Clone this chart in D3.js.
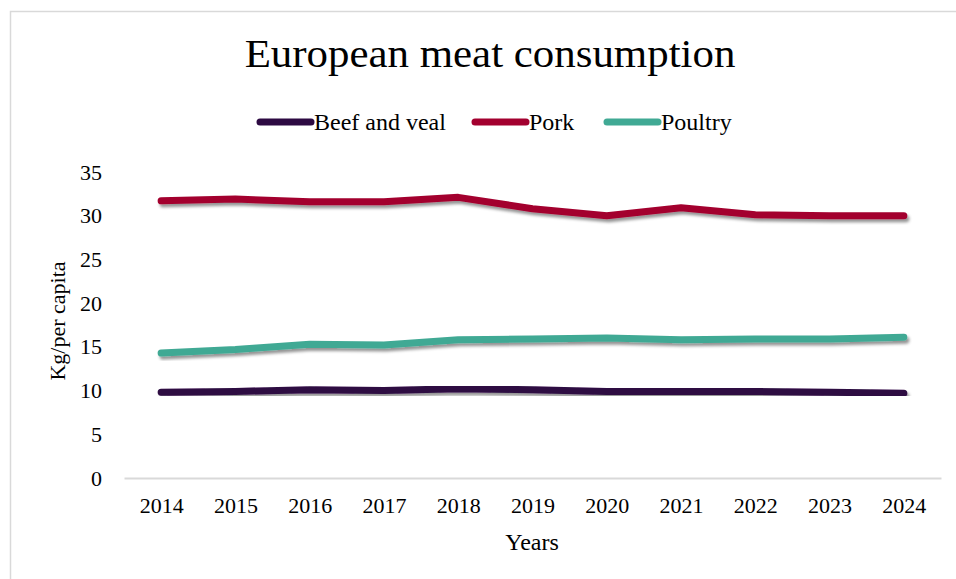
<!DOCTYPE html>
<html>
<head>
<meta charset="utf-8">
<script src="https://cdn.jsdelivr.net/npm/d3@7"></script>
<style>
  html, body { margin: 0; padding: 0; background: #fff; }
  svg { display: block; font-family: "Liberation Serif", "Times New Roman", serif; }
</style>
</head>
<body>
<svg id="chart" width="956" height="579"></svg>
<script>
// Annual per-capita meat consumption in Europe (kg)
const years = ["2014","2015","2016","2017","2018","2019","2020","2021","2022","2023","2024"];
const beefVeal = [9.8, 9.9, 10.1, 10.0, 10.2, 10.1, 9.9, 9.9, 9.9, 9.8, 9.7];
const pork     = [31.7, 31.9, 31.6, 31.6, 32.1, 30.8, 30.0, 30.9, 30.1, 30.0, 30.0];
const poultry  = [14.3, 14.7, 15.3, 15.2, 15.8, 15.9, 16.0, 15.8, 15.9, 15.9, 16.1];
const yTicks   = [0, 5, 10, 15, 20, 25, 30, 35];

const seriesNames  = ["Beef and veal", "Pork", "Poultry"];
const seriesValues = [beefVeal, pork, poultry];
const seriesColors = ["#2d0a42", "#a3002f", "#40a994"];

const series = seriesNames.map((name, i) => ({
  name, color: seriesColors[i],
  values: years.map((y, j) => ({ year: y, value: seriesValues[i][j] }))
}));

const svg = d3.select("#chart");

// outer chart frame
svg.append("rect")
  .attr("x", 10.5).attr("y", 11.5)
  .attr("width", 1000).attr("height", 700)
  .attr("fill", "#fff").attr("stroke", "#d9d9d9").attr("stroke-width", 1.5);

// soft drop shadow under each series line
const defs = svg.append("defs");
const f = defs.append("filter").attr("id", "lineShadow")
  .attr("x", "-5%").attr("y", "-50%").attr("width", "110%").attr("height", "200%");
f.append("feDropShadow")
  .attr("dx", 2).attr("dy", 3).attr("stdDeviation", 1.6)
  .attr("flood-color", "#000").attr("flood-opacity", 0.42);

const plot = { left: 124, right: 941, top: 172, bottom: 478 };

const x = d3.scalePoint().domain(years)
  .range([plot.left, plot.right]).padding(0.5);
const y = d3.scaleLinear().domain([0, 35])
  .range([plot.bottom, plot.top]);

// title
svg.append("text")
  .attr("transform", "translate(490,67) scale(1.1,1)")
  .attr("text-anchor", "middle")
  .attr("font-size", 39)
  .attr("fill", "#000")
  .text("European meat consumption");

// legend
const legendX = [257, 472, 604];
const legend = svg.append("g").selectAll("g").data(series).join("g")
  .attr("transform", (d, i) => `translate(${legendX[i]},122)`);
legend.append("line")
  .attr("x1", 3).attr("x2", 54).attr("y1", 0).attr("y2", 0)
  .attr("stroke", d => d.color).attr("stroke-width", 7)
  .attr("stroke-linecap", "round");
legend.append("text")
  .attr("x", 57).attr("y", 7.5)
  .attr("font-size", 24).attr("fill", "#000")
  .text(d => d.name);

// y axis (labels only)
const yAxis = svg.append("g")
  .attr("transform", `translate(${plot.left - 22},0)`)
  .call(d3.axisLeft(y).tickValues(yTicks).tickSize(0).tickPadding(0));
yAxis.select(".domain").remove();
yAxis.selectAll("text")
  .attr("font-family", "Liberation Serif, Times New Roman, serif")
  .attr("font-size", 22).attr("fill", "#000");

// x axis
const xAxis = svg.append("g")
  .attr("transform", `translate(0,${plot.bottom})`)
  .call(d3.axisBottom(x).tickSize(0).tickPadding(19));
xAxis.select(".domain")
  .attr("stroke", "#d9d9d9").attr("stroke-width", 2);
xAxis.selectAll("text")
  .attr("font-family", "Liberation Serif, Times New Roman, serif")
  .attr("font-size", 22).attr("fill", "#000");

// axis titles
svg.append("text")
  .attr("transform", "translate(65,321) rotate(-90)")
  .attr("text-anchor", "middle")
  .attr("font-size", 22).attr("fill", "#000")
  .text("Kg/per capita");
svg.append("text")
  .attr("x", 532).attr("y", 550)
  .attr("text-anchor", "middle")
  .attr("font-size", 24).attr("fill", "#000")
  .text("Years");

// series lines
const line = d3.line().x(d => x(d.year)).y(d => y(d.value));
svg.append("g").selectAll("path").data(series).join("path")
  .attr("d", d => line(d.values))
  .attr("fill", "none")
  .attr("stroke", d => d.color)
  .attr("stroke-width", 7)
  .attr("stroke-linecap", "round")
  .attr("stroke-linejoin", "round")
  .attr("filter", "url(#lineShadow)");
</script>
</body>
</html>
